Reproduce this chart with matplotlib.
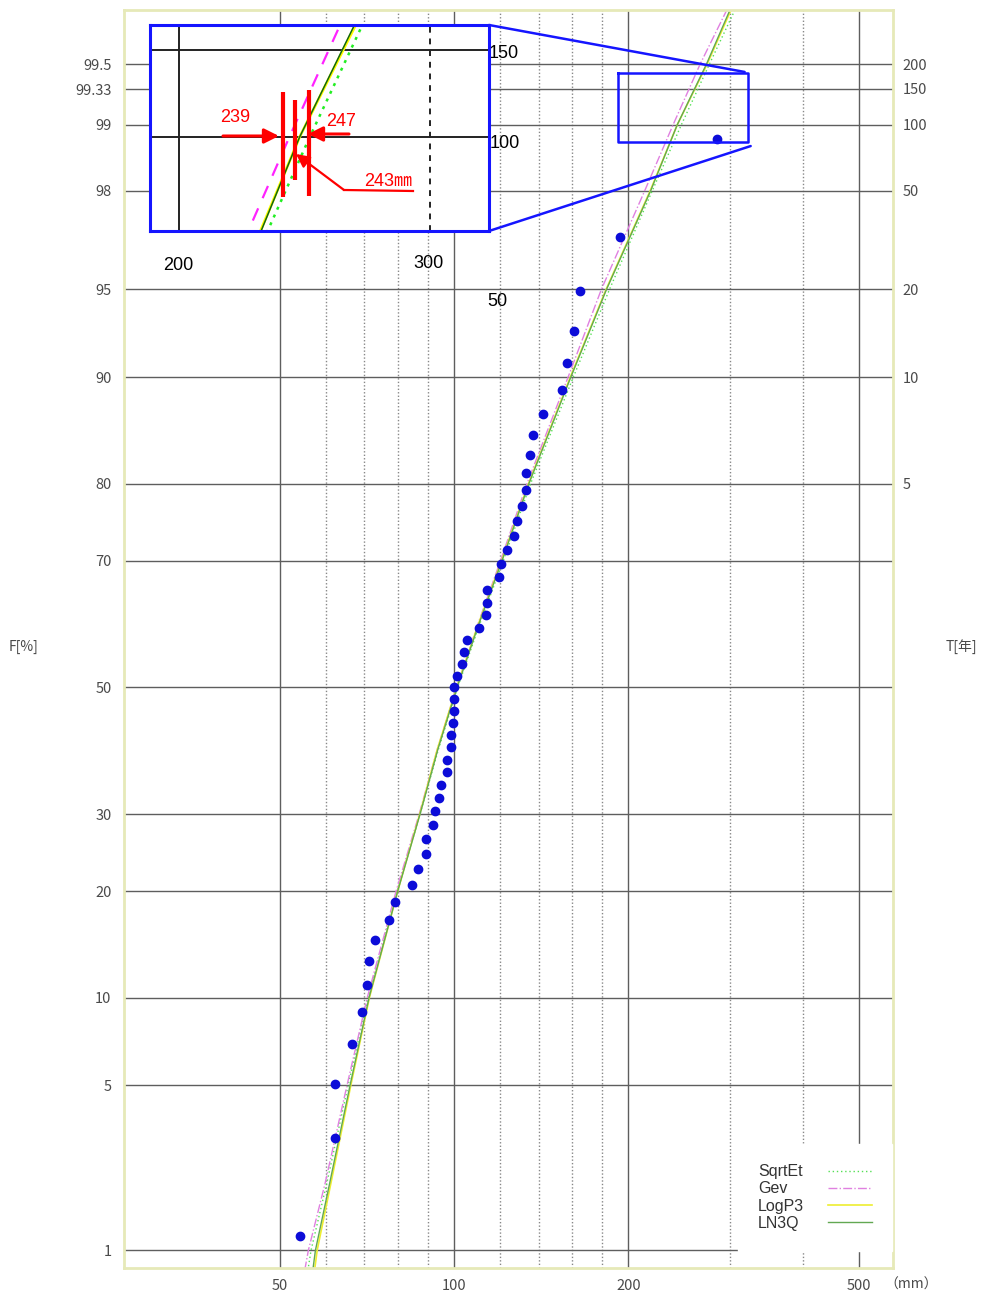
import numpy as np
import matplotlib
matplotlib.use('Agg')
import matplotlib.pyplot as plt
from matplotlib.patches import ConnectionPatch
from statistics import NormalDist

# plotted sample: non-exceedance probability and rainfall (mm)
prob = [0.0117, 0.0313, 0.0508, 0.0703, 0.0898, 0.1094, 0.1289, 0.1484, 0.1680, 0.1875,
        0.2070, 0.2266, 0.2461, 0.2656, 0.2852, 0.3047, 0.3242, 0.3438, 0.3633, 0.3828,
        0.4023, 0.4219, 0.4414, 0.4609, 0.4805, 0.5000, 0.5195, 0.5391, 0.5586, 0.5781,
        0.5977, 0.6172, 0.6367, 0.6563, 0.6758, 0.6953, 0.7148, 0.7344, 0.7539, 0.7734,
        0.7930, 0.8125, 0.8320, 0.8516, 0.8711, 0.8906, 0.9102, 0.9297, 0.9492, 0.9688,
        0.9883]
rain = [54.2, 62.3, 62.3, 66.6, 69.3, 70.7, 71.2, 73.0, 77.2, 79.0,
        84.5, 86.6, 89.4, 89.4, 92.0, 92.7, 94.2, 95.0, 97.1, 97.1,
        98.7, 98.7, 99.4, 99.8, 100.0, 100.0, 101.0, 103.2, 104.0, 105.1,
        110.4, 113.3, 114.0, 114.0, 119.6, 120.5, 123.3, 127.1, 128.3, 130.9,
        133.0, 133.0, 135.1, 137.1, 142.4, 153.8, 156.5, 160.9, 165.0, 193.4,
        284.4]

# fitted distributions
curve_prob = [0.008, 0.01, 0.02, 0.05, 0.1, 0.2, 0.3, 0.4, 0.5, 0.6, 0.7, 0.8,
              0.9, 0.95, 0.98, 0.99, 0.995, 0.998]
sqrtet = [55.9, 56.6, 60.2, 65.6, 71.0, 79.8, 87.3, 94.0, 101.4, 110.4, 121.6, 135.5,
          160.6, 185.5, 220.0, 247.0, 276.0, 316.5]
gev = [55.2, 56.0, 59.8, 65.3, 70.8, 79.4, 87.0, 93.6, 101.0, 109.6, 120.3, 133.6,
       157.3, 179.6, 213.5, 239.0, 266.0, 307.0]
logp3 = [57.4, 58.0, 61.2, 66.3, 71.4, 79.9, 87.2, 93.6, 101.0, 109.8, 120.8, 134.4,
         158.7, 183.0, 218.2, 243.0, 273.5, 311.0]
ln3q = [57.0, 57.6, 60.9, 66.1, 71.3, 79.9, 87.3, 93.8, 101.2, 110.0, 121.0, 134.6,
        159.0, 183.3, 218.6, 243.0, 272.8, 309.5]

f_ticks = [0.01, 0.05, 0.1, 0.2, 0.3, 0.5, 0.7, 0.8, 0.9, 0.95, 0.98, 0.99, 0.9933, 0.995]
f_labels = ['1', '5', '10', '20', '30', '50', '70', '80', '90', '95', '98', '99', '99.33', '99.5']
t_ticks = [0.8, 0.9, 0.95, 0.98, 0.99, 0.99333, 0.995]
t_labels = ['5', '10', '20', '50', '100', '150', '200']
x_major = [50, 100, 200, 500]
x_minor = [60, 70, 80, 90, 120, 140, 160, 180, 300, 400]

W, H = 985, 1296
nd = NormalDist()
_ppf = np.vectorize(lambda p: nd.inv_cdf(min(max(p, 1e-9), 1 - 1e-9)), otypes=[float])
_cdf = np.vectorize(nd.cdf, otypes=[float])


def fwd(p):
    return _ppf(np.asarray(p, dtype=float))


def inv(z):
    return _cdf(np.asarray(z, dtype=float))


def fx(px):
    return px / W


def fy(py):
    return 1 - py / H


gray = '#4a4a4a'
jp = ['Noto Sans CJK JP', 'DejaVu Sans']
arial = ['Liberation Sans', 'Noto Sans CJK JP', 'DejaVu Sans']

fig = plt.figure(figsize=(W / 100, H / 100), dpi=100)
ax = fig.add_axes([fx(124), fy(1268), (893 - 124) / W, (1268 - 10) / H])
ax.set_xscale('log')
ax.set_yscale('function', functions=(fwd, inv))
ax.set_xlim(26.9, 573)
ax.set_ylim(0.008214, 0.997445)

ax.set_xticks(x_major)
ax.set_xticklabels([str(v) for v in x_major])
ax.set_xticks(x_minor, minor=True)
ax.set_xticklabels([''] * len(x_minor), minor=True)
ax.set_yticks(f_ticks)
ax.set_yticklabels(f_labels)
ax.set_yticks([], minor=True)
ax.tick_params(which='both', length=0, labelsize=10.5, labelcolor=gray)
ax.tick_params(axis='y', pad=9)
ax.tick_params(axis='x', pad=8)
for lab in ax.get_xticklabels() + ax.get_yticklabels():
    lab.set_family(jp)
ax.grid(which='major', color='#5e5e5e', lw=1.0)
ax.grid(which='minor', axis='x', color='#888888', lw=1.0, ls=(0, (1, 1.5)))
for s in ax.spines.values():
    s.set_color('#e6e9b8')
    s.set_linewidth(2)

ax.plot(sqrtet, curve_prob, color='#55e055', lw=1.0, ls=(0, (1, 2)), label='SqrtEt')
ax.plot(gev, curve_prob, color='#e080e0', lw=1.0, ls='-.', label='Gev')
ax.plot(logp3, curve_prob, color='#eeee30', lw=1.2, label='LogP3')
ax.plot(ln3q, curve_prob, color='#62a852', lw=1.0, label='LN3Q')
ax.plot(rain, prob, 'o', color='#0c0cd8', ms=6, zorder=5)

leg = ax.legend(loc='lower right', bbox_to_anchor=(0.9993, 0.0132), borderaxespad=0,
                markerfirst=False, frameon=True, facecolor='white', edgecolor='white',
                framealpha=1, fancybox=False, handlelength=2.75, handletextpad=1.5,
                labelspacing=0.14, borderpad=1.28,
                prop={'family': 'Liberation Sans', 'size': 11.5})
for t in leg.get_texts():
    t.set_color('#333333')

# return period axis
ax2 = ax.twinx()
ax2.set_yscale('function', functions=(fwd, inv))
ax2.set_ylim(ax.get_ylim())
ax2.set_yticks(t_ticks)
ax2.set_yticklabels(t_labels)
ax2.set_yticks([], minor=True)
ax2.tick_params(length=0, labelsize=10.5, labelcolor=gray, pad=7)
for lab in ax2.get_yticklabels():
    lab.set_family(jp)
for s in ax2.spines.values():
    s.set_visible(False)

fig.text(fx(24), fy(647), 'F[%]', ha='center', va='center', fontsize=10,
         color=gray, family=jp)
fig.text(fx(961), fy(647), 'T[年]', ha='center', va='center', fontsize=10,
         color=gray, family=jp)
fig.text(fx(911), fy(1285), '（mm）', ha='center', va='center', fontsize=10,
         color=gray, family=jp)

# small box marking the zoomed area
blue = '#1515ff'
ax.plot([191.7, 322.4, 322.4, 191.7, 191.7],
        [0.99443, 0.99443, 0.98787, 0.98787, 0.99443], color=blue, lw=1.8, zorder=6)

# zoomed inset
ax_in = fig.add_axes([fx(150), fy(231), (489 - 150) / W, (231 - 25) / H])
ax_in.set_zorder(10)
ax_in.set_xscale('log')
ax_in.set_yscale('function', functions=(fwd, inv))
ax_in.set_xlim(190.8, 330)
ax_in.set_ylim(0.98484, 0.99409)
ax_in.set_xticks([])
ax_in.set_xticks([], minor=True)
ax_in.set_yticks([])
ax_in.set_yticks([], minor=True)
for s in ax_in.spines.values():
    s.set_color(blue)
    s.set_linewidth(2.2)
ax_in.axhline(0.99, color='#222222', lw=1.4)
ax_in.axhline(0.99333, color='#222222', lw=1.4)
ax_in.axvline(200, color='#222222', lw=1.4)
ax_in.axvline(300, color='#222222', lw=1.4, ls=(0, (3, 3)))
ax_in.plot(gev, curve_prob, color='#ff22ff', lw=1.6, ls=(0, (6, 5)))
ax_in.plot(sqrtet, curve_prob, color='#22ee22', lw=1.8, ls=(0, (1.2, 2.2)))
ax_in.plot(logp3, curve_prob, color='#ffff00', lw=2.0)
ax_in.plot(ln3q, curve_prob, color='#116611', lw=1.1)


def xf(px):
    return (px - 150) / 339


def yf(py):
    return (231 - py) / 206


red = '#ff0000'
tr = ax_in.transAxes
for px, y0, y1 in [(283, 92, 197), (295, 100, 180), (309, 90, 196)]:
    ax_in.plot([xf(px), xf(px)], [yf(y0), yf(y1)], color=red, lw=3, transform=tr,
               solid_capstyle='butt')
ax_in.annotate('', xy=(xf(279), yf(136)), xytext=(xf(223), yf(136)), xycoords=tr,
               textcoords=tr, arrowprops=dict(arrowstyle='-|>', color=red, lw=2.2,
                                              mutation_scale=22, shrinkA=0, shrinkB=0))
ax_in.annotate('', xy=(xf(308), yf(134)), xytext=(xf(349), yf(134)), xycoords=tr,
               textcoords=tr, arrowprops=dict(arrowstyle='-|>', color=red, lw=2.2,
                                              mutation_scale=22, shrinkA=0, shrinkB=0))
ax_in.plot([xf(413), xf(344)], [yf(191), yf(190)], color=red, lw=1.6, transform=tr)
ax_in.annotate('', xy=(xf(296), yf(154)), xytext=(xf(344), yf(190)), xycoords=tr,
               textcoords=tr, arrowprops=dict(arrowstyle='-|>', color=red, lw=1.6,
                                              mutation_scale=20, shrinkA=0, shrinkB=0))
ax_in.text(xf(235), yf(118), '239', color=red, fontsize=13, family=arial,
           ha='center', va='center', transform=tr)
ax_in.text(xf(341), yf(122), '247', color=red, fontsize=13, family=arial,
           ha='center', va='center', transform=tr)
ax_in.text(xf(388), yf(181), '243㎜', color=red, fontsize=13, family=arial,
           ha='center', va='center', transform=tr)

# labels printed round the inset
for txt, px, py, ha in [('150', 489, 54, 'left'), ('100', 490, 144, 'left'),
                        ('50', 487, 302, 'left'), ('200', 178, 265, 'center'),
                        ('300', 428, 263, 'center')]:
    fig.text(fx(px), fy(py), txt, ha=ha, va='center', fontsize=13, family=arial,
             color='black')

# lines linking inset to the small box
for xa, ya, xb, yb in [(1, 1, 317.6, 0.99452), (1, 0, 325.3, 0.98738)]:
    con = ConnectionPatch(xyA=(xa, ya), coordsA=ax_in.transAxes, xyB=(xb, yb),
                          coordsB=ax.transData, color=blue, lw=1.8)
    con.set_zorder(11)
    fig.add_artist(con)

# legend labels left aligned with the line samples kept in one column
fig.canvas.draw()
col = leg._legend_handle_box.get_children()[0]
col.align = 'left'
widths = [t.get_window_extent().width for t in leg.get_texts()]
for row, w in zip(col.get_children(), widths):
    row.sep = row.sep + (max(widths) - w) * 72 / fig.dpi

fig.savefig('out.png', dpi=100, facecolor='white')
